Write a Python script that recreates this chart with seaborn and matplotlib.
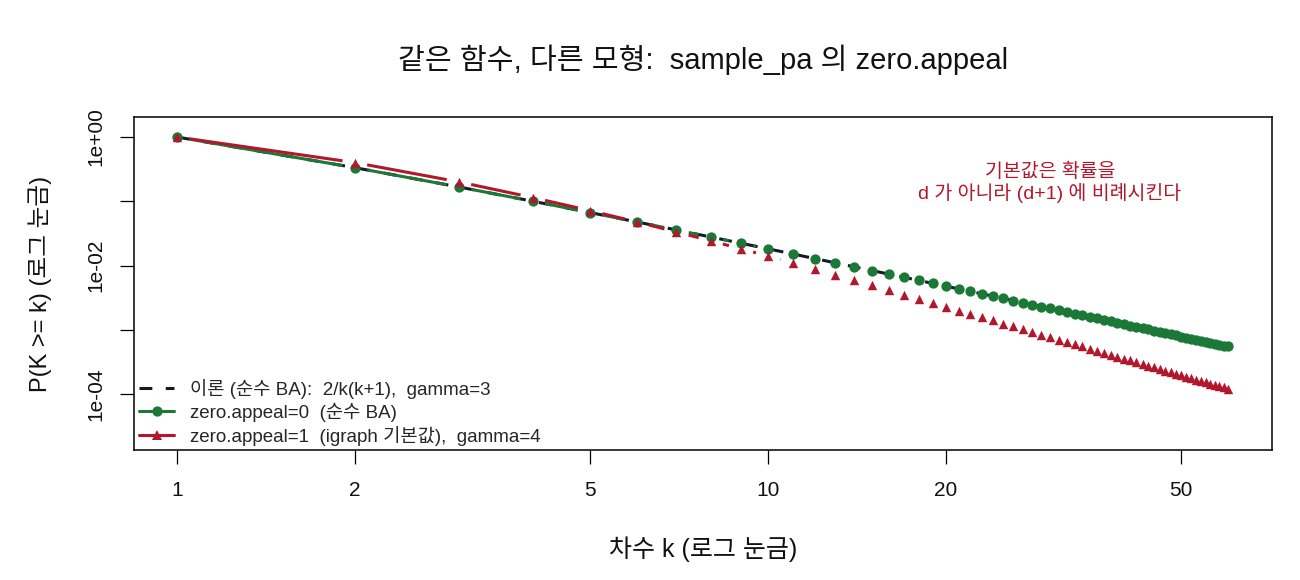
import matplotlib
matplotlib.use('Agg')
import numpy as np
import matplotlib.pyplot as plt
import seaborn as sns
from matplotlib.collections import LineCollection
from matplotlib.lines import Line2D

# degree k (x axis)
degree = list(range(1, 61))

# theory: pure BA, 2/k(k+1)
theory_p = [1.0, 0.3333, 0.1667, 0.1, 0.06667, 0.04762, 0.03571, 0.02778, 0.02222, 0.01818,
            0.01515, 0.01282, 0.01099, 0.009524, 0.008333, 0.007353, 0.006536, 0.005848, 0.005263, 0.004762,
            0.004329, 0.003953, 0.003623, 0.003333, 0.003077, 0.002849, 0.002646, 0.002463, 0.002299, 0.002151,
            0.002016, 0.001894, 0.001783, 0.001681, 0.001587, 0.001502, 0.001422, 0.001350, 0.001282, 0.001220,
            0.001161, 0.001107, 0.001057, 0.001010, 0.000966, 0.000925, 0.000887, 0.000850, 0.000816, 0.000784,
            0.000754, 0.000725, 0.000699, 0.000673, 0.000649, 0.000627, 0.000605, 0.000585, 0.000565, 0.000546]

# zero.appeal = 0 (simulated, P(K >= k))
za0_p = [1.0, 0.333, 0.1667, 0.1, 0.0667, 0.0476, 0.0357, 0.0278, 0.0222, 0.0182,
         0.01515, 0.01282, 0.01099, 0.00952, 0.00833, 0.00735, 0.00654, 0.00585, 0.00526, 0.00476,
         0.00433, 0.00395, 0.00362, 0.00333, 0.00308, 0.00285, 0.00265, 0.00246, 0.00230, 0.00215,
         0.00202, 0.00189, 0.00178, 0.00168, 0.00159, 0.00150, 0.00142, 0.00135, 0.00128, 0.00122,
         0.00116, 0.00111, 0.00106, 0.00101, 0.000966, 0.000925, 0.000887, 0.000850, 0.000816, 0.000784,
         0.000754, 0.000725, 0.000699, 0.000673, 0.000649, 0.000627, 0.000605, 0.000585, 0.000565, 0.000550]

# zero.appeal = 1 (igraph default)
za1_p = [1.0, 0.40, 0.20, 0.114, 0.0714, 0.0476, 0.0333, 0.0242, 0.0182, 0.0140,
         0.0110, 0.00879, 0.00714, 0.00588, 0.00490, 0.00413, 0.00351, 0.00301, 0.00260, 0.00226,
         0.00199, 0.00176, 0.00156, 0.00140, 0.00125, 0.00113, 0.00102, 0.000926, 0.000842, 0.000770,
         0.000705, 0.000648, 0.000596, 0.000551, 0.000510, 0.000473, 0.000439, 0.000409, 0.000381, 0.000356,
         0.000334, 0.000313, 0.000294, 0.000277, 0.000260, 0.000245, 0.000232, 0.000219, 0.000207, 0.000197,
         0.000186, 0.000176, 0.000168, 0.000160, 0.000153, 0.000145, 0.000139, 0.000132, 0.000127, 0.000121]

x_ticks = [1, 2, 5, 10, 20, 50]
y_ticks = [1e0, 1e-1, 1e-2, 1e-3, 1e-4]
y_tick_labels = ['1e+00', '', '1e-02', '', '1e-04']

BLACK = '#141a26'
GREEN = '#1b7837'
RED = '#b2182b'

sns.set_theme(style='white')
plt.rcParams['font.family'] = ['Liberation Sans', 'Noto Sans CJK KR', 'DejaVu Sans']

fig = plt.figure(figsize=(13, 5.8), dpi=100)
ax = fig.add_axes([134.3 / 1300, 1 - 450.3 / 580, (1272 - 134.3) / 1300, (450.3 - 116.7) / 580])
ax.set_xscale('log')
ax.set_yscale('log')
ax.set_xlim(0.847, 71.2)
ax.set_ylim(1.33e-5, 2.07)


def gapped(xs, ys, gap=12.5):
    # R type="b": segments stop short of each point
    pts = ax.transData.transform(np.column_stack([xs, ys]))
    inv = ax.transData.inverted()
    segs = []
    for p0, p1 in zip(pts[:-1], pts[1:]):
        d = p1 - p0
        n = np.hypot(*d)
        if n > 2 * gap:
            u = d / n
            segs.append(inv.transform(np.array([p0 + u * gap, p1 - u * gap])))
    return segs


# theory line first
sns.lineplot(x=degree, y=theory_p, ax=ax, color=BLACK, lw=2.2,
             linestyle=(0, (4.2, 4.4)), zorder=2)

# zero.appeal = 0
ax.add_collection(LineCollection(gapped(degree, za0_p), colors=GREEN, linewidths=2.2,
                                 capstyle='butt', zorder=3))
sns.scatterplot(x=degree, y=za0_p, ax=ax, color=GREEN, marker='o', s=55,
                linewidth=0, zorder=4)

# zero.appeal = 1
ax.add_collection(LineCollection(gapped(degree, za1_p), colors=RED, linewidths=2.2,
                                 capstyle='butt', zorder=5))
sns.scatterplot(x=degree, y=za1_p, ax=ax, color=RED, marker='^', s=46,
                linewidth=0, zorder=6)

ax.set_xlim(0.847, 71.2)
ax.set_ylim(1.33e-5, 2.07)

ax.xaxis.set_major_locator(matplotlib.ticker.FixedLocator(x_ticks))
ax.xaxis.set_minor_locator(matplotlib.ticker.NullLocator())
ax.set_xticklabels([str(t) for t in x_ticks])
ax.yaxis.set_major_locator(matplotlib.ticker.FixedLocator(y_ticks))
ax.yaxis.set_minor_locator(matplotlib.ticker.NullLocator())
ax.set_yticklabels(y_tick_labels, rotation=90, va='center')
ax.tick_params(axis='both', which='major', length=10, width=0.9, color='black',
               labelsize=15, labelcolor='#111111', direction='out', bottom=True, left=True)
ax.tick_params(axis='x', pad=12)
ax.tick_params(axis='y', pad=11)
for s in ax.spines.values():
    s.set_color('black')
    s.set_linewidth(1.1)

ax.set_xlabel('차수 k (로그 눈금)', fontsize=18, color='#111111')
ax.xaxis.label.set_va('center')
ax.xaxis.set_label_coords(0.5, (450.3 - 549) / 333.6)
ax.set_ylabel('P(K >= k) (로그 눈금)', fontsize=17, color='#111111')
ax.yaxis.label.set_va('center')
ax.yaxis.set_label_coords((40 - 134.3) / 1137.7, 0.5)

fig.text(703 / 1300, 1 - 60 / 580, '같은 함수, 다른 모형:  sample_pa 의 zero.appeal',
         ha='center', va='center', fontsize=21, color='#111111')

fig.text(1050 / 1300, 1 - 183 / 580, '기본값은 확률을\nd 가 아니라 (d+1) 에 비례시킨다',
         ha='center', va='center', fontsize=14, color=RED, linespacing=1.15)

handles = [
    Line2D([], [], color=BLACK, lw=2.2, linestyle=(0, (4.2, 4.4))),
    Line2D([], [], color=GREEN, lw=2.2, marker='o', markersize=7.4, markeredgewidth=0),
    Line2D([], [], color=RED, lw=2.2, marker='^', markersize=6.8, markeredgewidth=0),
]
labels = ['이론 (순수 BA):  2/k(k+1),  gamma=3',
          'zero.appeal=0  (순수 BA)',
          'zero.appeal=1  (igraph 기본값),  gamma=4']
ax.legend(handles, labels, loc='lower left', frameon=False, fontsize=13.5,
          handlelength=1.87, handletextpad=0.85, labelspacing=0.2,
          borderaxespad=0.1, borderpad=0.15, numpoints=1)

fig.savefig('out.png', dpi=100)
